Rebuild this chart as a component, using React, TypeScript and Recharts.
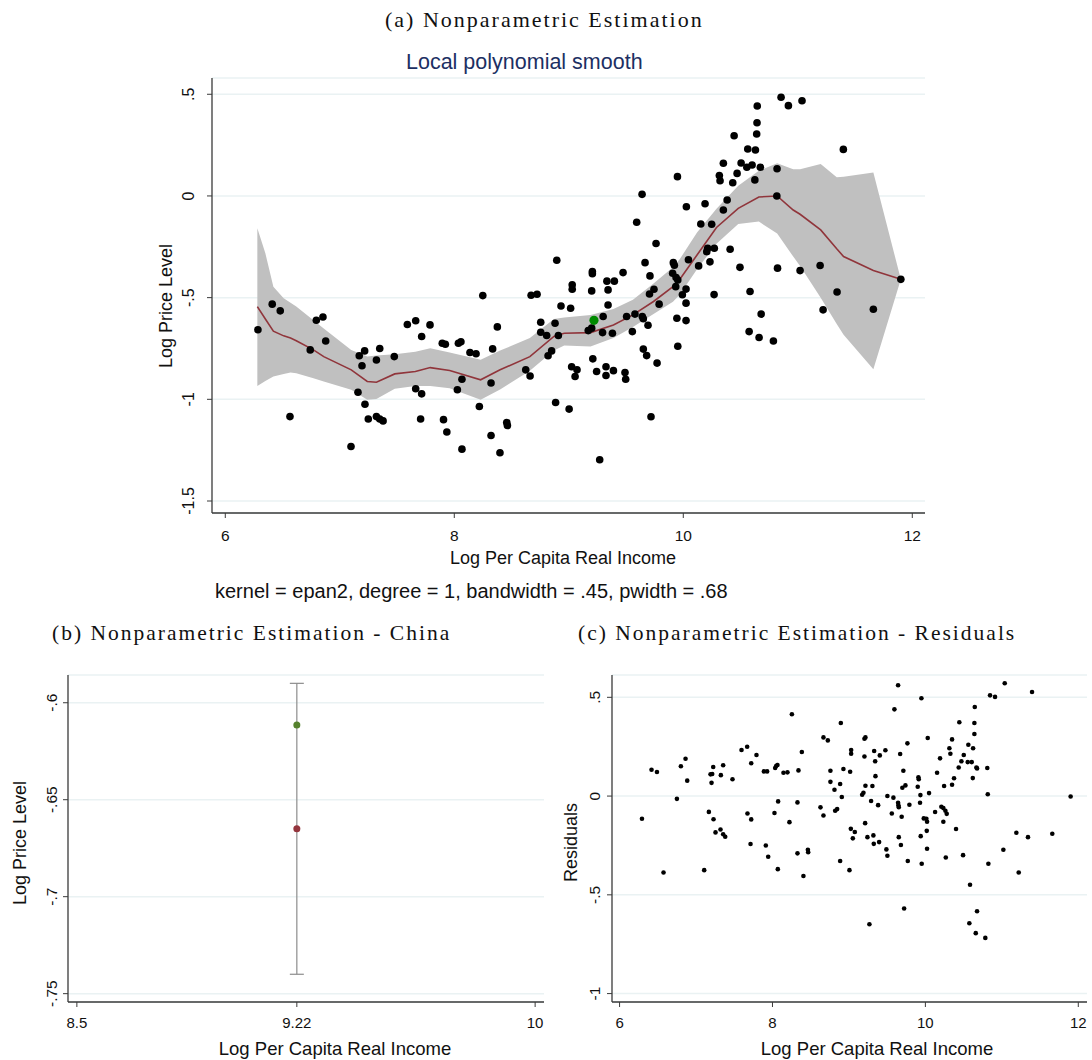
import React from 'react';
import {
  Area,
  CartesianGrid,
  ComposedChart,
  ErrorBar,
  Line,
  Scatter,
  ScatterChart,
  XAxis,
  YAxis,
} from 'recharts';

const SANS = '"Liberation Sans", Arial, sans-serif';
const SERIF = '"Liberation Serif", "Times New Roman", serif';

const AXIS = '#3a3a3a';
const GRID = '#eaf2f3';
const BAND = '#c0c0c0';
const MAROON = '#90353b';

// local polynomial smooth (epan2, degree 1) and its confidence band
const smoothX = [
  6.28, 6.35, 6.42, 6.51, 6.57, 6.62, 6.77, 6.86, 7.1, 7.24, 7.32, 7.48, 7.66,
  7.79, 7.96, 8.23, 8.4, 8.66, 8.87, 8.96, 9.19, 9.39, 9.56, 9.74, 9.91, 9.97,
  10.12, 10.29, 10.48, 10.66, 10.82, 10.96, 11.02, 11.2, 11.34, 11.4, 11.66, 11.9,
];
const smoothFit = [
  -0.544, -0.605, -0.665, -0.688, -0.699, -0.712, -0.757, -0.79, -0.855, -0.912,
  -0.916, -0.875, -0.863, -0.844, -0.858, -0.904, -0.855, -0.79, -0.691, -0.675,
  -0.672, -0.634, -0.585, -0.519, -0.446, -0.41, -0.29, -0.155, -0.061, -0.005,
  0.0, -0.069, -0.09, -0.167, -0.26, -0.298, -0.367, -0.41,
];
const bandLow = [
  -0.934, -0.91, -0.888, -0.875, -0.868, -0.872, -0.896, -0.912, -0.953, -1.002,
  -0.998, -0.948, -0.934, -0.934, -0.945, -1.002, -0.952, -0.86, -0.76, -0.735,
  -0.74, -0.699, -0.645, -0.58, -0.52, -0.485, -0.36, -0.235, -0.138, -0.126,
  -0.185, -0.298, -0.345, -0.5, -0.63, -0.683, -0.852, -0.41,
];
const bandHigh = [
  -0.159, -0.282, -0.446, -0.503, -0.525, -0.544, -0.611, -0.652, -0.757, -0.79,
  -0.785, -0.778, -0.766, -0.749, -0.77, -0.806, -0.76, -0.699, -0.605, -0.598,
  -0.585, -0.556, -0.51, -0.43, -0.35, -0.31, -0.18, -0.063, 0.05, 0.124, 0.161,
  0.131, 0.131, 0.157, 0.092, 0.095, 0.115, -0.41,
];

// [log per capita real income, log price level]
const countries: [number, number][] = [
  [6.285, -0.658], [6.41, -0.532], [6.48, -0.565], [6.565, -1.085], [6.742, -0.757],
  [6.795, -0.611], [6.853, -0.595], [6.877, -0.713], [7.098, -1.232], [7.159, -0.965],
  [7.17, -0.786], [7.194, -0.835], [7.217, -0.762], [7.22, -1.024], [7.249, -1.097],
  [7.32, -0.807], [7.349, -0.75], [7.32, -1.085], [7.349, -1.097], [7.378, -1.106],
  [7.476, -0.79], [7.59, -0.632], [7.663, -0.614], [7.715, -0.691], [7.788, -0.634],
  [7.663, -0.948], [7.715, -0.973], [7.706, -1.097], [7.895, -0.724], [7.922, -0.729],
  [7.906, -1.1], [7.935, -1.161], [8.036, -0.724], [8.058, -0.717], [8.067, -0.901],
  [8.027, -0.953], [8.067, -1.245], [8.137, -0.77], [8.19, -0.776], [8.249, -0.49],
  [8.219, -1.035], [8.321, -0.92], [8.321, -1.178], [8.335, -0.752], [8.376, -0.644],
  [8.399, -1.263], [8.458, -1.114], [8.464, -1.129], [8.624, -0.855], [8.662, -0.885],
  [8.671, -0.488], [8.723, -0.483], [8.755, -0.621], [8.755, -0.67], [8.807, -0.686],
  [8.88, -0.626], [8.909, -0.686], [8.85, -0.762], [8.819, -0.786], [8.885, -1.016],
  [8.932, -0.541], [9.016, -0.552], [9.03, -0.437], [9.03, -0.459], [9.025, -0.84],
  [9.072, -0.855], [9.055, -0.888], [9.003, -1.048], [9.2, -0.467], [9.17, -0.662],
  [9.2, -0.65], [9.21, -0.801], [9.243, -0.863], [9.27, -1.297], [9.3, -0.593],
  [9.295, -0.672], [9.325, -0.84], [9.325, -0.883], [9.343, -0.536], [9.333, -0.419],
  [9.398, -0.419], [9.343, -0.462], [9.381, -0.675], [9.39, -0.859], [9.491, -0.868],
  [9.497, -0.901], [9.505, -0.593], [9.555, -0.667], [9.578, -0.581], [9.642, -0.593],
  [9.651, -0.604], [9.692, -0.636], [9.651, -0.753], [9.68, -0.785], [9.771, -0.822],
  [9.718, -1.086], [9.705, -0.482], [9.744, -0.459], [9.789, -0.532], [9.934, -0.446],
  [9.952, -0.413], [9.944, -0.601], [10.024, -0.613], [9.952, -0.739], [9.992, -0.486],
  [10.024, -0.527], [8.895, -0.316], [9.206, -0.372], [9.206, -0.382], [9.474, -0.377],
  [9.593, -0.129], [9.64, 0.008], [9.762, -0.234], [9.666, -0.328], [9.709, -0.393],
  [9.913, -0.328], [9.922, -0.341], [9.907, -0.38], [9.937, -0.401], [9.949, 0.095],
  [10.027, -0.053], [10.045, -0.314], [10.024, -0.458], [10.854, 0.485], [10.918, 0.444],
  [11.037, 0.468], [10.646, 0.442], [10.644, 0.36], [10.641, 0.305], [10.444, 0.296],
  [10.563, 0.231], [10.63, 0.226], [11.398, 0.229], [10.35, 0.161], [10.505, 0.162],
  [10.555, 0.141], [10.601, 0.152], [10.673, 0.141], [10.819, 0.134], [10.315, 0.1],
  [10.321, 0.075], [10.47, 0.111], [10.432, 0.065], [10.625, 0.079], [10.817, 0.0],
  [10.383, -0.02], [10.35, -0.069], [10.19, -0.038], [10.153, -0.138], [10.248, -0.139],
  [10.213, -0.257], [10.271, -0.257], [10.205, -0.274], [10.409, -0.262], [10.233, -0.324],
  [10.134, -0.344], [10.495, -0.351], [10.823, -0.355], [11.02, -0.367], [11.195, -0.342],
  [11.9, -0.41], [10.269, -0.485], [10.583, -0.47], [11.343, -0.472], [10.68, -0.581],
  [10.575, -0.667], [10.662, -0.696], [10.787, -0.713], [11.221, -0.56], [11.66, -0.557],
];

// China: observed value, fitted value and half width of its interval
const chinaIncome = 9.22;
const chinaActual = -0.6115;
const chinaFitted = -0.665;
const chinaHalfCI = 0.075;

// [log per capita real income, residual]
const residuals: [number, number][] = [
  [6.293, -0.115], [6.418, 0.133], [6.489, 0.122], [6.575, -0.387], [6.75, -0.014],
  [6.802, 0.151], [6.863, 0.189], [6.885, 0.078], [7.107, -0.375], [7.168, -0.08],
  [7.19, 0.11], [7.212, 0.112], [7.225, 0.147], [7.203, 0.067], [7.229, -0.117],
  [7.255, -0.184], [7.325, 0.106], [7.355, 0.156], [7.32, -0.169], [7.355, -0.193],
  [7.382, -0.206], [7.477, 0.085], [7.595, 0.233], [7.669, 0.25], [7.722, 0.166],
  [7.791, 0.208], [7.673, -0.088], [7.722, -0.118], [7.713, -0.243], [7.888, 0.125],
  [7.93, 0.125], [7.913, -0.25], [7.944, -0.307], [8.035, 0.142], [8.065, 0.157],
  [8.048, 0.152], [8.026, -0.086], [8.07, -0.37], [8.074, -0.027], [8.144, 0.118],
  [8.196, 0.12], [8.222, -0.132], [8.254, 0.414], [8.327, -0.032], [8.34, 0.13],
  [8.384, 0.223], [8.327, -0.29], [8.463, -0.272], [8.467, -0.284], [8.405, -0.405],
  [8.628, -0.057], [8.667, -0.098], [8.667, 0.297], [8.724, 0.282], [8.758, 0.128],
  [8.758, 0.072], [8.811, 0.032], [8.82, -0.074], [8.846, -0.066], [8.894, 0.37],
  [8.885, 0.061], [8.907, -0.005], [8.928, 0.137], [8.885, -0.329], [9.007, -0.375],
  [9.016, 0.123], [9.029, 0.233], [9.029, 0.214], [9.025, -0.166], [9.077, -0.182],
  [9.051, -0.214], [9.173, 0.007], [9.19, 0.017], [9.216, 0.052], [9.203, 0.2],
  [9.203, 0.29], [9.216, 0.297], [9.212, -0.137], [9.242, -0.208], [9.268, -0.649],
  [9.29, -0.025], [9.307, 0.051], [9.33, 0.228], [9.343, 0.176], [9.347, 0.101],
  [9.382, -0.046], [9.404, 0.206], [9.32, -0.199], [9.325, -0.242], [9.395, -0.233],
  [9.477, 0.232], [9.503, 0.0], [9.49, -0.27], [9.503, -0.302], [9.561, -0.088],
  [9.582, -0.008], [9.595, 0.439], [9.643, 0.561], [9.643, -0.034], [9.647, -0.046],
  [9.652, -0.056], [9.652, -0.208], [9.67, 0.213], [9.68, -0.248], [9.69, -0.105],
  [9.699, 0.042], [9.739, 0.054], [9.712, 0.128], [9.722, -0.569], [9.765, 0.267],
  [9.77, -0.329], [9.791, -0.044], [9.909, 0.095], [9.913, 0.085], [9.9, 0.047],
  [9.935, 0.005], [9.93, -0.034], [9.939, -0.203], [9.952, -0.343], [9.948, 0.495],
  [9.979, -0.113], [10.013, -0.115], [10.022, -0.13], [10.018, -0.176], [10.022, -0.267],
  [10.031, 0.294], [10.048, 0.015], [10.127, -0.081], [10.153, 0.118], [10.192, 0.191],
  [10.209, -0.054], [10.235, -0.061], [10.245, 0.051], [10.235, -0.13], [10.262, -0.074],
  [10.279, -0.09], [10.267, -0.311], [10.314, 0.242], [10.327, 0.214], [10.349, 0.287],
  [10.349, 0.057], [10.375, 0.09], [10.401, -0.167], [10.436, 0.145], [10.471, 0.176],
  [10.444, 0.374], [10.502, 0.208], [10.493, -0.299], [10.562, 0.26], [10.554, 0.172],
  [10.606, 0.172], [10.624, 0.242], [10.641, 0.314], [10.641, 0.37], [10.646, 0.451],
  [10.62, 0.091], [10.667, 0.145], [10.676, 0.14], [10.584, -0.449], [10.575, -0.644],
  [10.676, -0.583], [10.659, -0.694], [10.784, -0.718], [10.81, 0.142], [10.816, 0.009],
  [10.824, -0.343], [10.846, 0.51], [10.911, 0.502], [11.02, -0.272], [11.038, 0.571],
  [11.19, -0.186], [11.221, -0.387], [11.342, -0.208], [11.395, 0.527], [11.66, -0.191],
  [11.9, -0.002],
];

const ticksA = { x: [6, 8, 10, 12], y: [-1.5, -1, -0.5, 0, 0.5] };
const ticksB = { x: [8.5, 9.22, 10], y: [-0.75, -0.7, -0.65, -0.6] };
const ticksC = { x: [6, 8, 10, 12], y: [-1, -0.5, 0, 0.5] };

const smoothRows = smoothX.map((x, i) => ({
  x,
  fit: smoothFit[i],
  band: [bandLow[i], bandHigh[i]],
}));
const countryRows = countries.map(([x, y]) => ({ x, y }));
const residualRows = residuals.map(([x, y]) => ({ x, y }));
const chinaRow = [{ x: chinaIncome, y: chinaActual }];
const chinaFitRow = [{ x: chinaIncome, y: chinaFitted, ci: chinaHalfCI }];

// Stata style numbers: -.5 instead of -0.5
const stataNum = (v: number) =>
  v === 0 ? '0' : String(v).replace(/^(-?)0\./, '$1.');

const yTick = (off: number, fs: number) => (props: any) => (
  <text
    transform={`translate(${props.x - off},${props.y}) rotate(-90)`}
    textAnchor="middle"
    fontFamily={SANS}
    fontSize={fs}
    fill="#111"
  >
    {stataNum(props.payload.value)}
  </text>
);

const xTick = (dy: number, fs: number) => (props: any) => (
  <text
    x={props.x}
    y={props.y + dy}
    textAnchor="middle"
    fontFamily={SANS}
    fontSize={fs}
    fill="#111"
  >
    {stataNum(props.payload.value)}
  </text>
);

const dot = (r: number, fill: string) => (props: any) => (
  <circle cx={props.cx} cy={props.cy} r={r} fill={fill} />
);

const axisProps = {
  axisLine: { stroke: AXIS, strokeWidth: 1.3 },
  tickLine: { stroke: AXIS, strokeWidth: 1 },
  tickSize: 5,
  tickMargin: 0,
};

const Txt = ({
  x,
  y,
  size,
  font = SANS,
  anchor = 'middle',
  rotate = false,
  color = '#111',
  spacing = 0,
  children,
}: any) => (
  <text
    transform={`translate(${x},${y})${rotate ? ' rotate(-90)' : ''}`}
    textAnchor={anchor}
    fontFamily={font}
    fontSize={size}
    fill={color}
    letterSpacing={spacing}
  >
    {children}
  </text>
);

export default function App() {
  return (
    <div
      style={{
        position: 'absolute',
        left: 0,
        top: 0,
        width: 1092,
        height: 1060,
        background: '#fff',
        overflow: 'hidden',
      }}
    >
      {/* (a) smooth with band and countries */}
      <div style={{ position: 'absolute', left: 150, top: 60 }}>
        <ComposedChart
          width={790}
          height={500}
          data={smoothRows}
          margin={{ top: 18, right: 15, bottom: 20, left: 0 }}
        >
          <CartesianGrid vertical={false} stroke={GRID} strokeWidth={1.5} />
          <XAxis
            type="number"
            dataKey="x"
            domain={[5.884, 12.111]}
            ticks={ticksA.x}
            height={27}
            allowDataOverflow
            tick={xTick(23, 15.5)}
            {...axisProps}
          />
          <YAxis
            type="number"
            dataKey="y"
            domain={[-1.559, 0.58]}
            ticks={ticksA.y}
            width={62}
            allowDataOverflow
            tick={yTick(13.5, 16)}
            {...axisProps}
          />
          <Area
            dataKey="band"
            type="linear"
            fill={BAND}
            fillOpacity={1}
            stroke="none"
            isAnimationActive={false}
          />
          <Line
            dataKey="fit"
            type="linear"
            stroke={MAROON}
            strokeWidth={1.6}
            dot={false}
            isAnimationActive={false}
          />
          <Scatter data={countryRows} shape={dot(3.8, '#000')} isAnimationActive={false} />
          <Scatter data={chinaRow} shape={dot(4.6, '#008a00')} isAnimationActive={false} />
        </ComposedChart>
      </div>

      {/* (b) China: observed and fitted with interval */}
      <div style={{ position: 'absolute', left: 20, top: 665 }}>
        <ScatterChart width={530} height={380} margin={{ top: 10, right: 6, bottom: 15, left: 0 }}>
          <CartesianGrid vertical={false} stroke={GRID} strokeWidth={1.5} />
          <XAxis
            type="number"
            dataKey="x"
            domain={[8.471, 10.029]}
            ticks={ticksB.x}
            height={28}
            allowDataOverflow
            tick={xTick(21, 15)}
            {...axisProps}
          />
          <YAxis
            type="number"
            dataKey="y"
            domain={[-0.7543, -0.5857]}
            ticks={ticksB.y}
            width={48}
            allowDataOverflow
            tick={yTick(6.2, 15.5)}
            {...axisProps}
          />
          <Scatter data={chinaFitRow} shape={dot(3.5, '#94353d')} isAnimationActive={false}>
            <ErrorBar dataKey="ci" direction="y" width={7} stroke="#8c8c8c" strokeWidth={1.2} />
          </Scatter>
          <Scatter data={chinaRow} shape={dot(3.5, '#55822d')} isAnimationActive={false} />
        </ScatterChart>
      </div>

      {/* (c) residuals */}
      <div style={{ position: 'absolute', left: 560, top: 665 }}>
        <ScatterChart width={530} height={380} margin={{ top: 10, right: 3, bottom: 15, left: 0 }}>
          <CartesianGrid vertical={false} stroke={GRID} strokeWidth={1.5} />
          <XAxis
            type="number"
            dataKey="x"
            domain={[5.901, 12.114]}
            ticks={ticksC.x}
            height={28}
            allowDataOverflow
            tick={xTick(21, 15)}
            {...axisProps}
          />
          <YAxis
            type="number"
            dataKey="y"
            domain={[-1.0426, 0.613]}
            ticks={ticksC.y}
            width={52}
            allowDataOverflow
            tick={yTick(7.5, 15.5)}
            {...axisProps}
          />
          <Scatter data={residualRows} shape={dot(2.3, '#000')} isAnimationActive={false} />
        </ScatterChart>
      </div>

      <svg
        width={1092}
        height={1060}
        style={{ position: 'absolute', left: 0, top: 0, pointerEvents: 'none' }}
      >
        <Txt x={385} y={27} size={22} font={SERIF} anchor="start" spacing={2}>
          (a) Nonparametric Estimation
        </Txt>
        <Txt x={406} y={69} size={21.5} anchor="start" color="#1c2f63">
          Local polynomial smooth
        </Txt>
        <Txt x={172} y={306} size={18} rotate>
          Log Price Level
        </Txt>
        <Txt x={563} y={563.5} size={18}>
          Log Per Capita Real Income
        </Txt>
        <Txt x={215} y={597.5} size={20} anchor="start">
          kernel = epan2, degree = 1, bandwidth = .45, pwidth = .68
        </Txt>

        <Txt x={52} y={640} size={21.5} font={SERIF} anchor="start" spacing={2}>
          (b) Nonparametric Estimation - China
        </Txt>
        <Txt x={26.3} y={843} size={18} rotate>
          Log Price Level
        </Txt>
        <Txt x={335} y={1055} size={18.5}>
          Log Per Capita Real Income
        </Txt>

        <Txt x={578} y={640} size={21.5} font={SERIF} anchor="start" spacing={2}>
          (c) Nonparametric Estimation - Residuals
        </Txt>
        <Txt x={577} y={842.5} size={18} rotate>
          Residuals
        </Txt>
        <Txt x={877} y={1055} size={18.5}>
          Log Per Capita Real Income
        </Txt>
      </svg>
    </div>
  );
}
